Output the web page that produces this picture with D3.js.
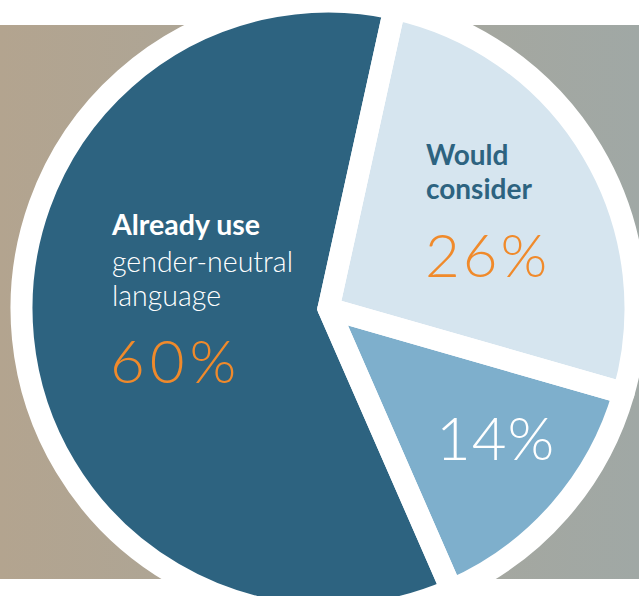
<!DOCTYPE html>
<html>
<head>
<meta charset="utf-8">
<script src="https://cdn.jsdelivr.net/npm/d3@7"></script>
<style>
  body { margin: 0; background: #fff; }
  svg { display: block; }
</style>
</head>
<body>
<div id="chart"></div>
<script>
var width = 639;
var height = 596;

// data
var categories = ["Would consider", "Not sure", "Already use"];
var values = [26, 14, 60];
var pctLabels = ["26%", "14%", "60%"];
var sliceColors = ["#d6e5ef", "#7eafcc", "#2d6380"];

var cx = 328.5;
var cy = 308.5;
var radius = 307;
var gap = 22;
var startAngle = 12.4 * Math.PI / 180;

var svg = d3.select("#chart").append("svg")
	.attr("width", width)
	.attr("height", height);

var grad = svg.append("defs").append("linearGradient")
	.attr("id", "bandGrad")
	.attr("x1", "0%").attr("x2", "100%")
	.attr("y1", "0%").attr("y2", "0%");
grad.append("stop").attr("offset", "0%").attr("stop-color", "#b3a48f");
grad.append("stop").attr("offset", "100%").attr("stop-color", "#a0a8a5");

// background band
svg.append("rect")
	.attr("x", 0)
	.attr("y", 25)
	.attr("width", width)
	.attr("height", 554)
	.attr("fill", "url(#bandGrad)");

var pie = d3.pie()
	.sort(null)
	.value(function(d){ return d; })
	.startAngle(startAngle)
	.endAngle(startAngle + 2 * Math.PI);

var arc = d3.arc()
	.innerRadius(0)
	.outerRadius(radius);

var arcs = pie(values);
var g = svg.append("g").attr("transform", "translate(" + cx + "," + cy + ")");

// fills first, then white strokes so the gaps are even on both sides
g.selectAll("path.slice")
	.data(arcs)
	.enter().append("path")
	.attr("class", "slice")
	.attr("d", arc)
	.attr("fill", function(d, i){ return sliceColors[i]; });

g.selectAll("path.gap")
	.data(arcs)
	.enter().append("path")
	.attr("class", "gap")
	.attr("d", arc)
	.attr("fill", "none")
	.attr("stroke", "#fff")
	.attr("stroke-width", gap)
	// only the big slice gets a pointed corner at the centre
	.attr("stroke-linejoin", function(d){ return (d.endAngle - d.startAngle) > Math.PI ? "miter" : "round"; })
	.attr("stroke-miterlimit", 10);

// labels
var font = "Lato, 'Open Sans', sans-serif";
var orange = "#f08a2b";

var lbl = svg.append("g").attr("font-family", font);

// Already use
lbl.append("text")
	.attr("x", 112).attr("y", 235)
	.attr("fill", "#fff")
	.attr("font-weight", 700)
	.attr("font-size", 28.5)
	.text("Already use");
lbl.append("text")
	.attr("x", 112).attr("y", 272)
	.attr("fill", "#fff")
	.attr("font-weight", 300)
	.attr("font-size", 28.5)
	.text("gender-neutral");
lbl.append("text")
	.attr("x", 112).attr("y", 306)
	.attr("fill", "#fff")
	.attr("font-weight", 300)
	.attr("font-size", 28.5)
	.text("language");
lbl.append("text")
	.attr("x", 110).attr("y", 383)
	.attr("fill", orange)
	.attr("font-weight", 300)
	.attr("font-size", 60)
	.attr("letter-spacing", 5)
	.text(pctLabels[2]);

// Would consider
lbl.append("text")
	.attr("x", 426).attr("y", 165)
	.attr("fill", sliceColors[2])
	.attr("font-weight", 700)
	.attr("font-size", 28)
	.text("Would");
lbl.append("text")
	.attr("x", 426).attr("y", 199)
	.attr("fill", sliceColors[2])
	.attr("font-weight", 700)
	.attr("font-size", 28)
	.text("consider");
lbl.append("text")
	.attr("x", 425).attr("y", 277)
	.attr("fill", orange)
	.attr("font-weight", 300)
	.attr("font-size", 60)
	.attr("letter-spacing", 3)
	.text(pctLabels[0]);

// 14%
lbl.append("text")
	.attr("x", 436).attr("y", 460)
	.attr("fill", "#fff")
	.attr("font-weight", 300)
	.attr("font-size", 60)
	.attr("letter-spacing", 1)
	.text(pctLabels[1]);
</script>
</body>
</html>
